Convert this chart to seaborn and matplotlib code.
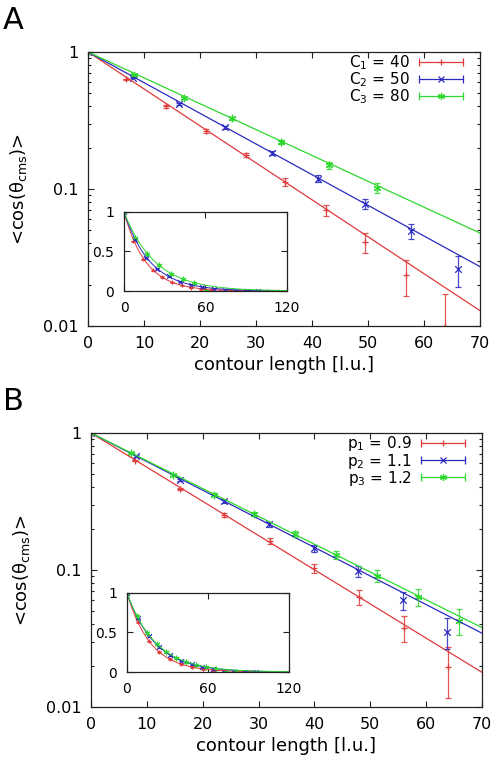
import numpy as np
import pandas as pd
import seaborn as sns
import matplotlib.pyplot as plt
from matplotlib.lines import Line2D
from matplotlib.legend_handler import HandlerLine2D, HandlerTuple
from matplotlib.ticker import FuncFormatter, LogLocator, MultipleLocator

# ---- panel A data ----
a_labels = ['C$_1$ = 40', 'C$_2$ = 50', 'C$_3$ = 80']
a_x = [
    [0, 6.8, 13.9, 21.1, 28.2, 35.2, 42.5, 49.5, 56.7, 63.7, 70.8, 77.8, 84.9, 92.0, 99.1, 106.2, 113.3],
    [0, 8.0, 16.2, 24.5, 32.8, 41.1, 49.4, 57.6, 66.0, 74.2, 82.4, 90.6, 98.8],
    [0, 8.3, 17.1, 25.7, 34.4, 43.1, 51.6, 60.2],
]
a_y = [
    [1.0, 0.632, 0.40, 0.265, 0.177, 0.113, 0.070, 0.041, 0.0235, 0.010, 0.006, 0.004, 0.003, 0.002, 0.002, 0.001, 0.001],
    [1.0, 0.65, 0.418, 0.281, 0.184, 0.119, 0.0775, 0.0493, 0.0259, 0.008, 0.005, 0.003, 0.002],
    [1.0, 0.676, 0.465, 0.327, 0.221, 0.149, 0.102, 0.001],
]
a_err = [0.007, 0.0065, 0.008]
a_decay = [16.1, 19.4, 23.0]   # fitted decay lengths

# ---- panel B data ----
b_labels = ['p$_1$ = 0.9', 'p$_2$ = 1.1', 'p$_3$ = 1.2']
b_x = [
    [0, 7.9, 16.0, 23.9, 32.0, 39.9, 47.9, 56.0, 63.9, 71.9],
    [0, 8.1, 16.0, 23.9, 31.9, 39.9, 47.8, 55.9, 63.7, 71.6, 79.6, 87.5, 95.5],
    [0, 7.2, 14.6, 22.0, 29.2, 36.5, 43.9, 51.2, 58.5, 65.8, 73.1, 80.4],
]
b_y = [
    [1.0, 0.628, 0.390, 0.253, 0.163, 0.103, 0.0637, 0.038, 0.0196, 0.004],
    [1.0, 0.679, 0.456, 0.317, 0.216, 0.144, 0.0986, 0.0602, 0.0355, 0.008, 0.006, 0.004, 0.002],
    [1.0, 0.71, 0.493, 0.354, 0.256, 0.183, 0.129, 0.0906, 0.0637, 0.0425, 0.006, 0.003],
]
b_err = [0.008, 0.009, 0.009]
b_decay = [17.4, 20.8, 21.4]

colors = ['#e03a3a', '#2a2ac0', '#2fd82f']
markers = ['+', 'x', (6, 2, 0)]

sns.set_style('ticks')
plt.rcParams['font.family'] = ['DejaVu Sans']
plt.rcParams['mathtext.default'] = 'regular'
plt.rcParams['text.color'] = 'black'
plt.rcParams['axes.labelcolor'] = 'black'
plt.rcParams['axes.edgecolor'] = '#222222'
plt.rcParams['axes.linewidth'] = 0.9


def style_ticks(ax, size, pad):
    ax.tick_params(which='both', direction='in', top=True, right=True,
                   labelsize=size, colors='#222222', labelcolor='black', pad=pad)
    ax.tick_params(which='major', length=4.5, width=0.8)
    ax.tick_params(which='minor', length=2.5, width=0.8)


def draw_panel(fig, rect, inset_rect, letter, xs, ys, errs, decays, labels):
    ax = fig.add_axes(rect)
    handles = []
    hmap = {}
    for i in range(3):
        df = pd.DataFrame({'x': xs[i], 'y': ys[i]})
        fit = pd.DataFrame({'x': np.linspace(0, 120, 241)})
        fit['y'] = np.exp(-fit['x'] / decays[i])
        sns.lineplot(data=fit, x='x', y='y', ax=ax, color=colors[i], lw=0.9)
        ax.errorbar(df['x'], df['y'], yerr=errs[i], fmt='none', ecolor=colors[i],
                    elinewidth=0.9, capsize=2.5, capthick=0.9, alpha=0.85)
        sns.scatterplot(data=df, x='x', y='y', ax=ax, color=colors[i],
                        marker=markers[i], s=22, linewidth=0.9)
        cap = Line2D([], [], color=colors[i], lw=0.9, marker='|', ms=6, mew=0.9)
        mid = Line2D([], [], color=colors[i], lw=0, marker=markers[i], ms=5, mew=0.9)
        hmap[cap] = HandlerLine2D(numpoints=2, marker_pad=0)
        hmap[mid] = HandlerLine2D(numpoints=1)
        handles.append((cap, mid))
    ax.set_yscale('log')
    ax.set_xlim(0, 70)
    ax.set_ylim(0.01, 1)
    ax.xaxis.set_major_locator(MultipleLocator(10))
    ax.yaxis.set_major_locator(LogLocator(base=10, numticks=5))
    ax.yaxis.set_minor_locator(LogLocator(base=10, subs=np.arange(2, 10), numticks=10))
    ax.yaxis.set_major_formatter(FuncFormatter(lambda v, p: '%g' % v))
    style_ticks(ax, 11.5, 7)
    ax.set_xlabel('contour length [l.u.]', fontsize=13, labelpad=4)
    ax.set_ylabel('<cos(θ$_{cms}$)>', fontsize=13, labelpad=10)
    hmap[tuple] = HandlerTuple(ndivide=1)
    leg = ax.legend(handles, labels, loc='upper right', bbox_to_anchor=(0.957, 0.995),
                    frameon=False, markerfirst=False,
                    fontsize=11, handlelength=2.9, handletextpad=0.6,
                    labelspacing=-0.12, borderaxespad=0.0, borderpad=0.0,
                    handler_map=hmap)
    for t in leg.get_texts():
        t.set_ha('right')
    fig.text(0.006, rect[1] + rect[3] + 0.06, letter, fontsize=22, va='top', ha='left',
             color='black')

    ins = fig.add_axes(inset_rect)
    for i in range(3):
        df = pd.DataFrame({'x': xs[i], 'y': ys[i]})
        fit = pd.DataFrame({'x': np.linspace(0, 120, 241)})
        fit['y'] = np.exp(-fit['x'] / decays[i])
        sns.lineplot(data=fit, x='x', y='y', ax=ins, color=colors[i], lw=0.7)
        ins.errorbar(df['x'], df['y'], yerr=errs[i], fmt='none', ecolor=colors[i],
                     elinewidth=0.7, capsize=1.5, capthick=0.7, alpha=0.85)
        sns.scatterplot(data=df, x='x', y='y', ax=ins, color=colors[i],
                        marker=markers[i], s=12, linewidth=0.8)
    ins.set_xlim(0, 120)
    ins.set_ylim(0, 1)
    ins.set_xticks([0, 60, 120])
    ins.set_yticks([0, 0.5, 1])
    ins.yaxis.set_major_formatter(FuncFormatter(lambda v, p: '%g' % v))
    style_ticks(ins, 10, 7)
    ins.set_xlabel('')
    ins.set_ylabel('')


fig = plt.figure(figsize=(4.98, 7.62), dpi=100)
draw_panel(fig, [0.1767, 0.5722, 0.7872, 0.3596], [0.249, 0.6181, 0.3273, 0.1037],
           'A', a_x, a_y, a_err, a_decay, a_labels)
draw_panel(fig, [0.1827, 0.0722, 0.7852, 0.3596], [0.255, 0.1181, 0.3253, 0.1037],
           'B', b_x, b_y, b_err, b_decay, b_labels)

fig.savefig('out.png', dpi=100)
